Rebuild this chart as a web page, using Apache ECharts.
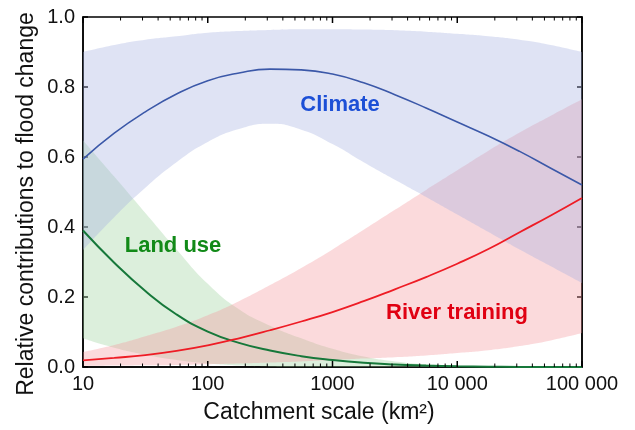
<!DOCTYPE html>
<html><head><meta charset="utf-8">
<script src="https://cdn.jsdelivr.net/npm/echarts@6/dist/echarts.min.js"></script>
<style>html,body{margin:0;padding:0;background:#fff}#c{width:635px;height:430px}</style>
</head><body><div id="c"></div>
<script>
// catchment areas (km²), sampled every quarter decade
const areas = [10, 17.8, 31.6, 56.2, 100, 178, 316, 562, 1000, 1778, 3162, 5623, 10000, 17783, 31623, 56234, 100000];
const climate   = [0.594, 0.668, 0.729, 0.780, 0.818, 0.840, 0.851, 0.849, 0.837, 0.812, 0.778, 0.740, 0.700, 0.660, 0.616, 0.568, 0.520];
const climateLo = [0.334, 0.428, 0.512, 0.585, 0.643, 0.680, 0.695, 0.678, 0.637, 0.585, 0.535, 0.486, 0.436, 0.386, 0.336, 0.288, 0.240];
const climateHi = [0.900, 0.920, 0.935, 0.945, 0.955, 0.960, 0.963, 0.965, 0.965, 0.964, 0.962, 0.958, 0.952, 0.945, 0.935, 0.920, 0.900];
const landUse   = [0.390, 0.298, 0.217, 0.150, 0.101, 0.069, 0.047, 0.031, 0.020, 0.012, 0.007, 0.004, 0.002, 0.001, 0, 0, 0];
const landUseLo = [0.082, 0.055, 0.035, 0.020, 0.010, 0.004, 0.001, 0, 0, 0, 0, 0, 0, 0, 0, 0, 0];
const landUseHi = [0.648, 0.544, 0.440, 0.336, 0.238, 0.165, 0.118, 0.082, 0.052, 0.030, 0.016, 0.008, 0.003, 0.001, 0, 0, 0];
const river     = [0.019, 0.026, 0.034, 0.046, 0.062, 0.082, 0.105, 0.130, 0.157, 0.188, 0.222, 0.257, 0.295, 0.337, 0.385, 0.433, 0.483];
const riverLo   = [0.003, 0.004, 0.005, 0.006, 0.008, 0.010, 0.013, 0.016, 0.020, 0.024, 0.028, 0.033, 0.040, 0.048, 0.060, 0.076, 0.097];
const riverHi   = [0.043, 0.063, 0.088, 0.115, 0.148, 0.188, 0.234, 0.283, 0.336, 0.392, 0.449, 0.506, 0.562, 0.618, 0.670, 0.718, 0.765];
const xMajorTicks = [10, 100, 1000, 10000, 100000];
const xMinorTicks = [20,30,40,50,60,70,80,90, 200,300,400,500,600,700,800,900,
  2000,3000,4000,5000,6000,7000,8000,9000, 20000,30000,40000,50000,60000,70000,80000,90000];

const FONT = 'Liberation Sans, Arial, sans-serif';
const pairs = arr => areas.map((x, i) => [x, arr[i]]);

// band = invisible lower line + stacked (hi - lo) area; data given as [y, x] so the stack runs on y
function band(id, lo, hi, color, z) {
  return [
    { type: 'line', stack: id, data: areas.map((x, i) => [lo[i], x]), encode: { x: 1, y: 0 },
      smooth: true, symbol: 'none', lineStyle: { opacity: 0 }, silent: true, z: z },
    { type: 'line', stack: id, data: areas.map((x, i) => [+(hi[i] - lo[i]).toFixed(4), x]), encode: { x: 1, y: 0 },
      smooth: true, symbol: 'none', lineStyle: { opacity: 0 }, areaStyle: { color: color, opacity: 1 }, silent: true, z: z }
  ];
}
function line(data, color, w) {
  return { type: 'line', data: pairs(data), smooth: true, symbol: 'none',
    lineStyle: { color: color, width: w }, z: 5 };
}
function ticks(values, len, w) {
  return { type: 'custom', data: values.map(v => [v, 0]), encode: { x: 0, y: 1 }, silent: true, z: 10, clip: false,
    renderItem: (params, api) => {
      const b = api.coord([api.value(0), 0]);
      const t = api.coord([api.value(0), 1]);
      const st = { stroke: '#000', lineWidth: w };
      return { type: 'group', children: [
        { type: 'line', shape: { x1: b[0], y1: b[1], x2: b[0], y2: b[1] - len }, style: st },
        { type: 'line', shape: { x1: t[0], y1: t[1], x2: t[0], y2: t[1] + len }, style: st }
      ] };
    } };
}
const fmtX = v => v >= 10000 ? String(v).replace(/\B(?=(\d{3})+(?!\d))/g, ' ') : String(v);

const chart = echarts.init(document.getElementById('c'), null, { renderer: 'canvas' });
chart.setOption({
  animation: false,
  grid: { left: 83, right: 53, top: 17, bottom: 63, show: true, borderColor: '#000', borderWidth: 1.5, backgroundColor: 'transparent' },
  xAxis: [
    { type: 'log', logBase: 10, min: 10, max: 100000, position: 'bottom',
      axisLine: { lineStyle: { color: '#000', width: 1.5 } },
      axisTick: { show: false },
      axisLabel: { formatter: fmtX, color: '#111', fontSize: 20, fontFamily: FONT, margin: 7,
        customValues: xMajorTicks },
      splitLine: { show: false } }
  ],
  yAxis: [
    { type: 'value', min: 0, max: 1, interval: 0.2, position: 'left',
      axisLine: { show: true, lineStyle: { color: '#000', width: 1.5 } },
      axisTick: { show: true, inside: true, length: 5, lineStyle: { color: '#000', width: 1.5 } },
      axisLabel: { formatter: v => v.toFixed(1), color: '#111', fontSize: 20, fontFamily: FONT, margin: 8 },
      splitLine: { show: false } },
    { type: 'value', min: 0, max: 1, interval: 0.2, position: 'right',
      axisLine: { show: true, lineStyle: { color: '#000', width: 1.5 } },
      axisTick: { show: true, inside: true, length: 5, lineStyle: { color: '#000', width: 1.5 } },
      axisLabel: { show: false }, splitLine: { show: false } }
  ],
  series: [
    ...band('lu', landUseLo, landUseHi, 'rgba(154,209,154,0.35)', 1),
    ...band('rt', riverLo, riverHi, 'rgba(244,150,155,0.35)', 2),
    ...band('cl', climateLo, climateHi, 'rgba(164,175,224,0.35)', 3),
    line(climate, '#3b58a8', 1.6),
    line(landUse, '#16783a', 2),
    line(river, '#ee1c25', 1.8),
    ticks(xMinorTicks, 3.5, 1),
    ticks(xMajorTicks, 6, 1.5)
  ],
  graphic: [
    { type: 'text', z: 100, x: 340, y: 105, style: { text: 'Climate', fill: '#1c4fd6', font: 'bold 22px ' + FONT, align: 'center', verticalAlign: 'middle' } },
    { type: 'text', z: 100, x: 173, y: 246, style: { text: 'Land use', fill: '#128a18', font: 'bold 22px ' + FONT, align: 'center', verticalAlign: 'middle' } },
    { type: 'text', z: 100, x: 457, y: 313, style: { text: 'River training', fill: '#e00012', font: 'bold 22px ' + FONT, align: 'center', verticalAlign: 'middle' } },
    { type: 'text', z: 100, x: 319, y: 413, style: { text: 'Catchment scale (km²)', fill: '#111', font: '23px ' + FONT, align: 'center', verticalAlign: 'middle' } },
    { type: 'text', z: 100, x: 27, y: 204, rotation: Math.PI / 2, style: { text: 'Relative contributions to flood change', fill: '#111', font: '23px ' + FONT, align: 'center', verticalAlign: 'middle' } }
  ]
});
</script></body></html>
